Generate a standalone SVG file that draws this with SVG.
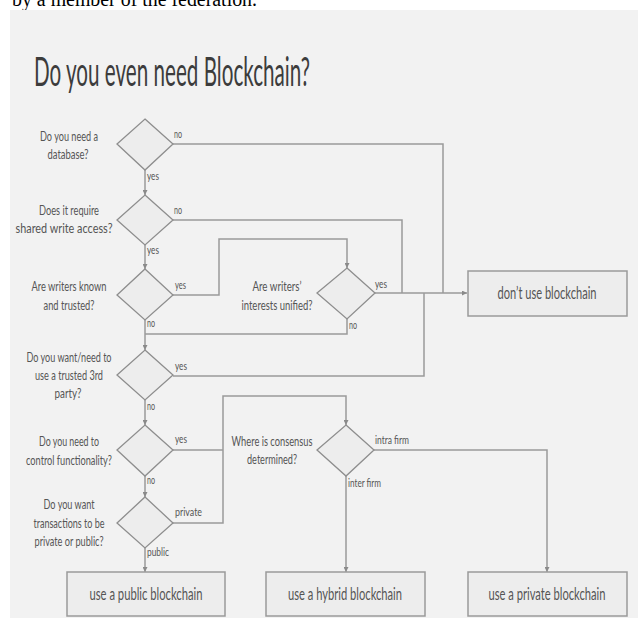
<svg xmlns="http://www.w3.org/2000/svg" width="638" height="619" viewBox="0 0 638 619">
<defs>
<marker id="arr" viewBox="0 0 8 8" refX="8" refY="4" markerWidth="5" markerHeight="5" orient="auto" markerUnits="userSpaceOnUse">
<path d="M0,0 L8,4 L0,8 z" fill="#8a8a8a"/>
</marker>
<style>
.q{font-family:Lato,"Open Sans",sans-serif;font-size:13.5px;fill:#555;text-anchor:middle}
.l{font-family:Lato,"Open Sans",sans-serif;font-size:11px;fill:#555}
.b{font-family:Lato,"Open Sans",sans-serif;font-size:17px;fill:#555;text-anchor:middle}
.d{fill:#ededed;stroke:#8e8e8e;stroke-width:1.3}
.r{fill:#ededed;stroke:#9a9a9a;stroke-width:1.5}
.c{fill:none;stroke:#9a9a9a;stroke-width:1.5}
.a{fill:none;stroke:#9a9a9a;stroke-width:1.5;marker-end:url(#arr)}
</style>
</defs>
<rect width="638" height="619" fill="#ffffff"/>
<text x="12" y="6" font-family="Liberation Serif,serif" font-size="20" fill="#000" textLength="245" lengthAdjust="spacingAndGlyphs">by a member of the federation.</text>
<rect x="10" y="10" width="628" height="608" fill="#f2f2f2"/>
<text id="title" x="34" y="86" font-family="Lato,'Open Sans',sans-serif" font-size="40" fill="#3c3c3c" textLength="276" lengthAdjust="spacingAndGlyphs">Do you even need Blockchain?</text>

<g id="connectors">
<path class="a" d="M145,170 V195"/>
<path class="a" d="M145,245 V269"/>
<path class="a" d="M145,320 V350"/>
<path class="a" d="M145,400 V425"/>
<path class="a" d="M145,476 V497"/>
<path class="a" d="M145,548 V572"/>
<path class="c" d="M173,144 H443 V293"/>
<path class="c" d="M173,220 H402 V293"/>
<path class="a" d="M375,293 H467"/>
<path class="c" d="M173,376 H424 V293"/>
<path class="a" d="M173,295 H219 V239 H347 V268"/>
<path class="c" d="M347,319 V334 H145"/>
<path class="c" d="M173,450 H223"/>
<path class="a" d="M173,523 H223 V396 H346 V425"/>
<path class="a" d="M374,450 H547 V572"/>
<path class="a" d="M346,476 V572"/>
</g>

<g id="q1">
<path class="d" d="M145,119 L173,144 L145,170 L117,144 z"/>
<text class="q" x="69" y="141" textLength="58" lengthAdjust="spacingAndGlyphs">Do you need a</text>
<text class="q" x="68" y="159" textLength="41" lengthAdjust="spacingAndGlyphs">database?</text>
<text class="l" x="174" y="138" textLength="8" lengthAdjust="spacingAndGlyphs">no</text>
<text class="l" x="147" y="180" textLength="12" lengthAdjust="spacingAndGlyphs">yes</text>
</g>
<g id="q2">
<path class="d" d="M145,195 L173,220 L145,245 L117,220 z"/>
<text class="q" x="69" y="215" textLength="60" lengthAdjust="spacingAndGlyphs">Does it require</text>
<text class="q" x="64" y="233" textLength="97" lengthAdjust="spacingAndGlyphs">shared write access?</text>
<text class="l" x="174" y="214" textLength="8" lengthAdjust="spacingAndGlyphs">no</text>
<text class="l" x="147" y="254" textLength="12" lengthAdjust="spacingAndGlyphs">yes</text>
</g>
<g id="q3">
<path class="d" d="M145,269 L173,295 L145,320 L117,295 z"/>
<text class="q" x="69" y="291" textLength="75" lengthAdjust="spacingAndGlyphs">Are writers known</text>
<text class="q" x="69" y="310" textLength="51" lengthAdjust="spacingAndGlyphs">and trusted?</text>
<text class="l" x="175" y="289" textLength="11" lengthAdjust="spacingAndGlyphs">yes</text>
<text class="l" x="147" y="327" textLength="8" lengthAdjust="spacingAndGlyphs">no</text>
</g>
<g id="q4">
<path class="d" d="M347,268 L375,293 L347,319 L317,293 z"/>
<text class="q" x="277" y="291" textLength="49" lengthAdjust="spacingAndGlyphs">Are writers’</text>
<text class="q" x="277" y="310" textLength="71" lengthAdjust="spacingAndGlyphs">interests unified?</text>
<text class="l" x="375" y="288" textLength="12" lengthAdjust="spacingAndGlyphs">yes</text>
<text class="l" x="349" y="329" textLength="8" lengthAdjust="spacingAndGlyphs">no</text>
</g>
<g id="q5">
<path class="d" d="M145,350 L173,375 L145,400 L117,375 z"/>
<text class="q" x="69" y="362" textLength="85" lengthAdjust="spacingAndGlyphs">Do you want/need to</text>
<text class="q" x="69" y="380" textLength="68" lengthAdjust="spacingAndGlyphs">use a trusted 3rd</text>
<text class="q" x="68" y="398" textLength="27" lengthAdjust="spacingAndGlyphs">party?</text>
<text class="l" x="175" y="370" textLength="12" lengthAdjust="spacingAndGlyphs">yes</text>
<text class="l" x="147" y="410" textLength="8" lengthAdjust="spacingAndGlyphs">no</text>
</g>
<g id="q6">
<path class="d" d="M145,425 L173,450 L145,476 L117,450 z"/>
<text class="q" x="69" y="446" textLength="60" lengthAdjust="spacingAndGlyphs">Do you need to</text>
<text class="q" x="69" y="465" textLength="86" lengthAdjust="spacingAndGlyphs">control functionality?</text>
<text class="l" x="175" y="443" textLength="12" lengthAdjust="spacingAndGlyphs">yes</text>
<text class="l" x="147" y="484" textLength="8" lengthAdjust="spacingAndGlyphs">no</text>
</g>
<g id="q7">
<path class="d" d="M346,425 L374,450 L346,476 L317,450 z"/>
<text class="q" x="272" y="446" textLength="81" lengthAdjust="spacingAndGlyphs">Where is consensus</text>
<text class="q" x="272" y="464" textLength="50" lengthAdjust="spacingAndGlyphs">determined?</text>
<text class="l" x="375" y="444" textLength="34" lengthAdjust="spacingAndGlyphs">intra firm</text>
<text class="l" x="348" y="487" textLength="33" lengthAdjust="spacingAndGlyphs">inter firm</text>
</g>
<g id="q8">
<path class="d" d="M145,497 L173,523 L145,548 L117,523 z"/>
<text class="q" x="69" y="509" textLength="51" lengthAdjust="spacingAndGlyphs">Do you want</text>
<text class="q" x="69" y="528" textLength="71" lengthAdjust="spacingAndGlyphs">transactions to be</text>
<text class="q" x="69" y="546" textLength="69" lengthAdjust="spacingAndGlyphs">private or public?</text>
<text class="l" x="175" y="516" textLength="27" lengthAdjust="spacingAndGlyphs">private</text>
<text class="l" x="147" y="556" textLength="22" lengthAdjust="spacingAndGlyphs">public</text>
</g>
<g id="dont">
<rect class="r" x="468" y="271" width="159" height="45"/>
<text class="b" x="547" y="299" textLength="99" lengthAdjust="spacingAndGlyphs">don’t use blockchain</text>
</g>
<g id="public">
<rect class="r" x="67" y="572" width="158" height="44"/>
<text class="b" x="146" y="600" textLength="113" lengthAdjust="spacingAndGlyphs">use a public blockchain</text>
</g>
<g id="hybrid">
<rect class="r" x="266" y="572" width="159" height="44"/>
<text class="b" x="345" y="600" textLength="114" lengthAdjust="spacingAndGlyphs">use a hybrid blockchain</text>
</g>
<g id="private">
<rect class="r" x="468" y="572" width="159" height="44"/>
<text class="b" x="547" y="600" textLength="117" lengthAdjust="spacingAndGlyphs">use a private blockchain</text>
</g>
</svg>
